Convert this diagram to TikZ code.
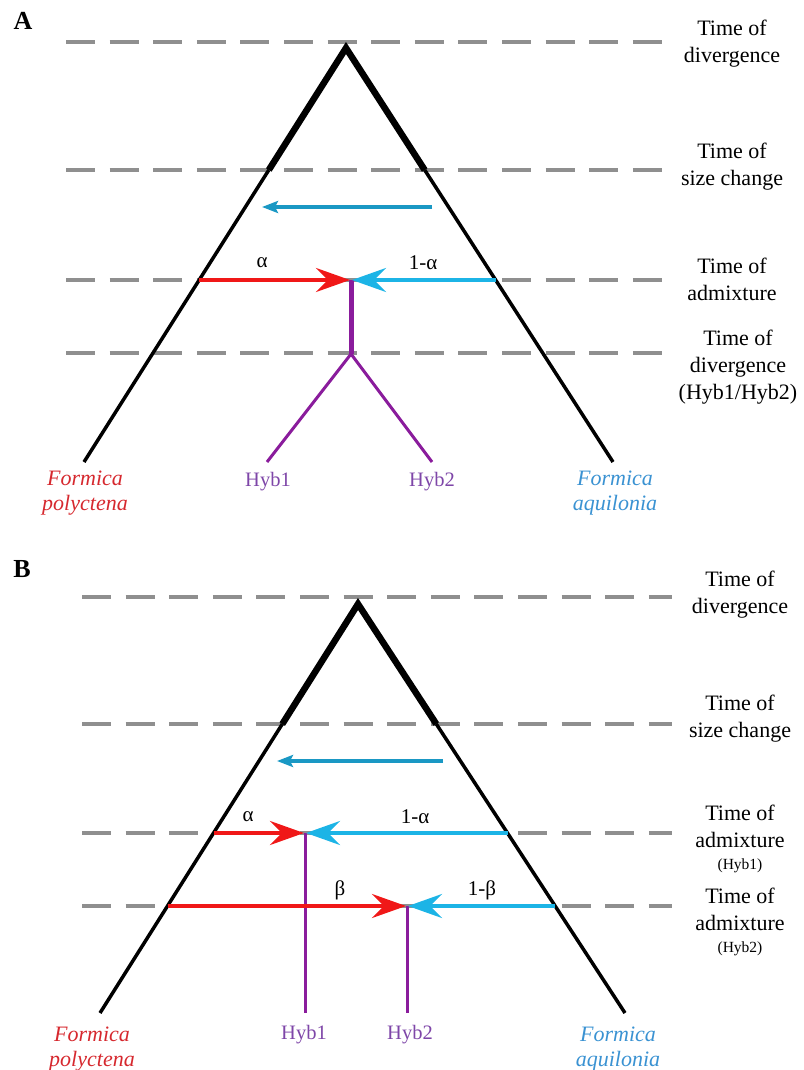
\documentclass[tikz,border=0pt]{standalone}
\usepackage{fontspec}
\setmainfont{Liberation Serif}
\usetikzlibrary{arrows.meta}
\definecolor{dashgray}{HTML}{8F8F8F}
\definecolor{redarr}{HTML}{F01818}
\definecolor{cyanarr}{HTML}{1CB4E6}
\definecolor{tealarr}{HTML}{1A98C4}
\definecolor{purpline}{HTML}{8A1C9C}
\definecolor{purptext}{HTML}{7E46A8}
\definecolor{redtext}{HTML}{D6282E}
\definecolor{bluetext}{HTML}{3A92D2}
\tikzset{
  timeline/.style={draw=dashgray, line width=4pt, dash pattern=on 29pt off 14.6pt},
  stemthick/.style={draw=black, line width=6.5pt, line join=miter},
  stemthin/.style={draw=black, line width=3.5pt},
  bigtip/.style={-{Stealth[length=34pt,width=24pt,inset=12pt]}},
  admixred/.style={draw=redarr, line width=4pt, bigtip},
  admixblue/.style={draw=cyanarr, line width=4pt, bigtip},
  sizearrow/.style={draw=tealarr, line width=3.2pt, -{Stealth[length=16pt,width=12pt,inset=3pt]}},
  hybline/.style={draw=purpline, line width=3pt},
  hybstem/.style={draw=purpline, line width=5pt},
  timelab/.style={font=\fontsize{22}{27}\selectfont, align=center, inner sep=0pt, anchor=north},
  species/.style={font=\fontsize{22}{25}\selectfont\itshape, align=center, inner sep=0pt, anchor=north},
  hyblab/.style={font=\fontsize{20.5}{24}\selectfont, text=purptext, inner sep=0pt, anchor=north},
  proplab/.style={font=\fontsize{21}{24}\selectfont, inner sep=0pt},
  panellab/.style={font=\fontsize{26}{30}\selectfont\bfseries, inner sep=0pt}
}
\begin{document}
\begin{tikzpicture}[x=1pt,y=-1pt]
\useasboundingbox (0,0) rectangle (803,1070);

% ================= Panel A =================
\node[panellab] (labA) at (23,21) {A};
\foreach \yy in {42,170,280,353}
  \draw[timeline] (66,\yy) -- (663,\yy);

\coordinate (apexA) at (346,48);
\coordinate (sLA) at (268.8,170);
\coordinate (sRA) at (424.7,170);
\coordinate (botLA) at (84,462);
\coordinate (botRA) at (613,462);
\coordinate (aLA) at (199.2,280);
\coordinate (aRA) at (495.6,280);
\coordinate (mA) at (351,280);
\coordinate (bA) at (351,354);
\coordinate (h1A) at (267,462);
\coordinate (h2A) at (432,462);
\coordinate (szsA) at (432,207);
\coordinate (szeA) at (262,207);

\draw[stemthick] (sLA) -- (apexA) -- (sRA);
\draw[stemthin] (sLA) -- (botLA);
\draw[stemthin] (sRA) -- (botRA);

\draw[sizearrow] (szsA) -- (szeA);
\draw[hybstem] (mA) -- (bA);
\draw[hybline, line join=round] (h1A) -- (bA) -- (h2A);
\draw[admixred] (aLA) -- ([xshift=-1pt]mA);
\draw[admixblue] (aRA) -- ([xshift=1pt]mA);

\node[proplab] (alphaA) at (262,263) {α};
\node[proplab] (oneminusalphaA) at (423,263) {1-α};

\node[hyblab] (hyb1A) at (268,472) {Hyb1};
\node[hyblab] (hyb2A) at (432,472) {Hyb2};
\node[species, text=redtext] (polyA) at (85,471) {Formica\\polyctena};
\node[species, text=bluetext] (aquiA) at (615,471) {Formica\\aquilonia};

\node[timelab] (tdivA) at (732,20) {Time of\\divergence};
\node[timelab] (tsizeA) at (732,143) {Time of\\size change};
\node[timelab] (tadmA) at (732,258) {Time of\\admixture};
\node[timelab] (tdivhA) at (738,330) {Time of\\divergence\\(Hyb1/Hyb2)};

% ================= Panel B =================
\node[panellab] (labB) at (22,569) {B};
\foreach \yy in {597,724,833,906}
  \draw[timeline] (82,\yy) -- (672,\yy);

\coordinate (apexB) at (358,604);
\coordinate (sLB) at (282.3,724);
\coordinate (sRB) at (436.3,724);
\coordinate (botLB) at (100,1013);
\coordinate (botRB) at (625,1013);
\coordinate (a1L) at (213.5,833);
\coordinate (a1R) at (507.5,833);
\coordinate (a2L) at (167.5,906);
\coordinate (a2R) at (555.1,906);
\coordinate (m1) at (305,833);
\coordinate (m2) at (407,906);
\coordinate (h1B) at (305,1013);
\coordinate (h2B) at (407,1013);
\coordinate (szsB) at (443,761);
\coordinate (szeB) at (277,761);

\draw[stemthick] (sLB) -- (apexB) -- (sRB);
\draw[stemthin] (sLB) -- (botLB);
\draw[stemthin] (sRB) -- (botRB);

\draw[sizearrow] (szsB) -- (szeB);
\draw[hybline] (m1) -- (h1B);
\draw[hybline] (m2) -- (h2B);
\draw[admixred] (a1L) -- ([xshift=-1pt]m1);
\draw[admixblue] (a1R) -- ([xshift=1pt]m1);
\draw[admixred] (a2L) -- ([xshift=-1pt]m2);
\draw[admixblue] (a2R) -- ([xshift=1pt]m2);

\node[proplab] (alphaB) at (248,817) {α};
\node[proplab] (oneminusalphaB) at (415,817) {1-α};
\node[proplab] (betaB) at (340,890) {β};
\node[proplab] (oneminusbetaB) at (482,890) {1-β};

\node[hyblab] (hyb1B) at (304,1025) {Hyb1};
\node[hyblab] (hyb2B) at (410,1025) {Hyb2};
\node[species, text=redtext] (polyB) at (92,1027) {Formica\\polyctena};
\node[species, text=bluetext] (aquiB) at (618,1027) {Formica\\aquilonia};

\node[timelab] (tdivB) at (740,571) {Time of\\divergence};
\node[timelab] (tsizeB) at (740,695) {Time of\\size change};
\node[timelab] (tadm1B) at (740,805) {Time of\\admixture\\[-5pt]{\fontsize{15.5}{18}\selectfont (Hyb1)}};
\node[timelab] (tadm2B) at (740,888) {Time of\\admixture\\[-5pt]{\fontsize{15.5}{18}\selectfont (Hyb2)}};
\end{tikzpicture}
\end{document}
